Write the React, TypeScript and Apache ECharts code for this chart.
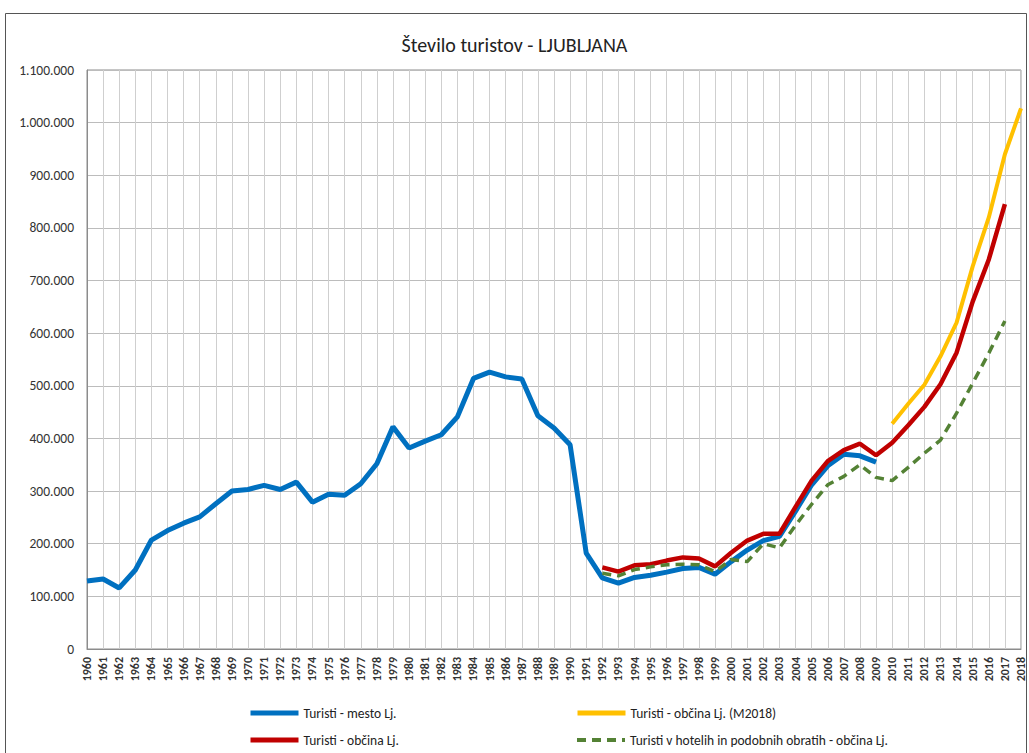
import React, { useEffect, useRef } from "react";
import * as echarts from "echarts";

const years: string[] = [];
for (let y = 1960; y <= 2018; y++) years.push(String(y));

// values in thousands
const mestoLj = [
  129, 133, 116, 150, 207, 225, 239, 251, 276, 300,
  303, 311, 303, 317, 279, 294, 292, 314, 352, 422,
  382, 395, 407, 441, 514, 526, 517, 513, 443, 420,
  388, 182, 135, 125, 136, 140, 146, 153, 155, 142,
  166, 188, 206, 214, 262, 312, 348, 370, 367, 355,
];
const obcinaM2018 = [428, 466, 502, 556, 620, 727, 820, 940, 1027];
const obcinaLj = [
  155, 147, 159, 161, 168, 174, 172, 157, 183, 206,
  219, 219, 270, 320, 357, 378, 390, 368, 392, 425,
  460, 503, 563, 660, 740, 845,
];
const hoteli = [
  144, 139, 151, 156, 160, 161, 160, 147, 170, 166,
  200, 192, 235, 275, 312, 328, 350, 326, 320, 345,
  372, 397, 448, 505, 562, 623,
];

const yTicks = [0, 100000, 200000, 300000, 400000, 500000, 600000, 700000, 800000, 900000, 1000000, 1100000];

const names = [
  "Turisti - mesto Lj.",
  "Turisti - občina Lj. (M2018)",
  "Turisti - občina Lj.",
  "Turisti v hotelih in podobnih obratih - občina Lj.",
];

function place(values: number[], startYear: number): (number | null)[] {
  const out: (number | null)[] = years.map(() => null);
  values.forEach((v, i) => {
    const idx = startYear - 1960 + i;
    if (idx < out.length) out[idx] = v * 1000;
  });
  return out;
}

const FONT = "Carlito, Lato, 'Open Sans', sans-serif";

function fmt(v: number): string {
  return String(Math.round(v)).replace(/\B(?=(\d{3})+(?!\d))/g, ".");
}

export default function App() {
  const ref = useRef<HTMLDivElement>(null);
  useEffect(() => {
    if (!ref.current) return;
    const chart = echarts.init(ref.current, null, { renderer: "svg" });
    const legendBase = {
      orient: "horizontal" as const,
      itemWidth: 48,
      itemHeight: 14,
      itemStyle: { opacity: 0 },
      textStyle: { fontFamily: FONT, fontSize: 13.5, color: "#222" },
      padding: 0,
    };
    chart.setOption({
      animation: false,
      backgroundColor: "#fff",
      title: {
        text: "Število turistov - LJUBLJANA",
        left: "center",
        top: 30,
        textStyle: { fontFamily: FONT, fontSize: 20, fontWeight: "normal", color: "#222" },
      },
      legend: [
        { ...legendBase, left: 248, top: 706, lineStyle: { width: 5 }, data: [names[0]] },
        { ...legendBase, left: 575, top: 706, lineStyle: { width: 5 }, data: [names[1]] },
        { ...legendBase, left: 248, top: 733, lineStyle: { width: 5 }, data: [names[2]] },
        { ...legendBase, left: 575, top: 733, lineStyle: { width: 4 }, data: [names[3]] },
      ],
      graphic: [
        {
          type: "rect",
          shape: { x: 5.5, y: 13.5, width: 1021, height: 770 },
          style: { fill: "none", stroke: "#555", lineWidth: 1 },
          silent: true,
        },
      ],
      grid: {
        left: 87,
        right: 8,
        top: 70,
        bottom: 104,
        show: true,
        borderColor: "#8c8c8c",
        borderWidth: 1,
      },
      xAxis: {
        type: "category",
        data: years,
        boundaryGap: false,
        axisLine: { lineStyle: { color: "#8c8c8c" } },
        axisTick: { show: false },
        splitLine: { show: true, lineStyle: { color: "#cfcfcf", width: 1 } },
        axisLabel: {
          interval: 0,
          rotate: 90,
          fontFamily: FONT,
          fontSize: 12,
          fontWeight: "bold",
          color: "#333",
          margin: 8,
        },
      },
      yAxis: {
        type: "value",
        min: 0,
        max: 1100000,
        interval: 100000,
        axisLine: { show: true, lineStyle: { color: "#8c8c8c" } },
        axisTick: { show: false },
        splitLine: { show: true, lineStyle: { color: "#bcbcbc", width: 1 } },
        axisLabel: {
          fontFamily: FONT,
          fontSize: 13.5,
          color: "#333",
          margin: 13,
          formatter: (v: number) => (yTicks.includes(v) ? fmt(v) : ""),
        },
      },
      series: [
        {
          name: names[0],
          type: "line",
          data: place(mestoLj, 1960),
          showSymbol: false,
          symbol: "none",
          lineStyle: { color: "#0070C0", width: 5 },
          itemStyle: { color: "#0070C0" },
          z: 2,
        },
        {
          name: names[1],
          type: "line",
          data: place(obcinaM2018, 2010),
          showSymbol: false,
          symbol: "none",
          lineStyle: { color: "#FFC000", width: 4 },
          itemStyle: { color: "#FFC000" },
          z: 3,
        },
        {
          name: names[2],
          type: "line",
          data: place(obcinaLj, 1992),
          showSymbol: false,
          symbol: "none",
          lineStyle: { color: "#C00000", width: 4.5 },
          itemStyle: { color: "#C00000" },
          z: 4,
        },
        {
          name: names[3],
          type: "line",
          data: place(hoteli, 1992),
          showSymbol: false,
          symbol: "none",
          lineStyle: { color: "#548235", width: 3.5, type: [9, 6] },
          itemStyle: { color: "#548235" },
          z: 5,
        },
      ],
    });
    return () => chart.dispose();
  }, []);
  return (
    <div
      ref={ref}
      style={{ position: "fixed", left: 0, top: 0, width: 1029, height: 753, background: "#fff" }}
    />
  );
}
